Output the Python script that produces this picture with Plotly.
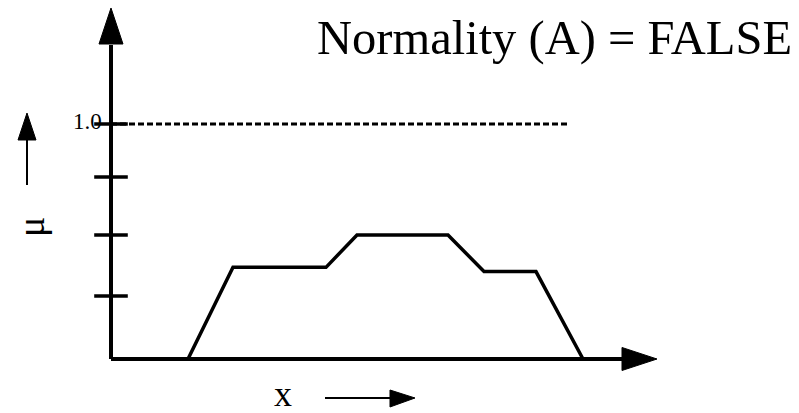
import plotly.graph_objects as go

# Membership function of a subnormal fuzzy set A (its height never reaches 1.0)
x_vals = [1.54, 2.44, 4.30, 4.92, 6.74, 7.46, 8.50, 9.44]
mu_vals = [0.0, 0.39, 0.39, 0.528, 0.528, 0.372, 0.372, 0.0]

# Membership grades marked on the vertical axis
mu_ticks = [0.268, 0.528, 0.774]
full_grade = 1.0
full_grade_label = "1.0"

title_text = "Normality (A) = FALSE"

W, H = 799, 413
SERIF = "Liberation Serif, Times New Roman, serif"

# Axis extents in data units
x_axis_end = 10.22      # where the x-axis arrowhead starts
y_axis_end = 1.336      # where the y-axis arrowhead starts
dash_end = 9.18


def px(x):
    return x / W


def py(y):
    return 1 - y / H


fig = go.Figure()

# the membership curve
fig.add_trace(go.Scatter(
    x=x_vals, y=mu_vals, mode="lines",
    line=dict(color="black", width=3.5),
    hoverinfo="skip", showlegend=False,
))

# tick marks crossing the vertical axis
fig.add_trace(go.Scatter(
    x=[0] * len(mu_ticks + [full_grade]), y=mu_ticks + [full_grade],
    mode="markers",
    marker=dict(symbol="line-ew", size=24, line=dict(color="black", width=3.5)),
    hoverinfo="skip", showlegend=False,
))

shapes = []
# axes
shapes.append(dict(type="line", xref="x", yref="y", x0=0, y0=0, x1=x_axis_end, y1=0,
                   line=dict(color="black", width=4)))
shapes.append(dict(type="line", xref="x", yref="y", x0=0, y0=0, x1=0, y1=y_axis_end,
                   line=dict(color="black", width=4)))
# full membership reference line
shapes.append(dict(type="line", xref="x", yref="y", x0=0, y0=full_grade, x1=dash_end, y1=full_grade,
                   line=dict(color="black", width=3, dash="6px,3px")))


def tri(points):
    p = " L".join(f"{px(a):.5f},{py(b):.5f}" for a, b in points)
    return "M" + p + " Z"


# arrowheads of the main axes
shapes.append(dict(type="path", xref="paper", yref="paper",
                   path=tri([(111, 8), (99, 44), (123, 44)]),
                   fillcolor="black", line=dict(color="black", width=1)))
shapes.append(dict(type="path", xref="paper", yref="paper",
                   path=tri([(657, 359), (622, 347.5), (622, 370.5)]),
                   fillcolor="black", line=dict(color="black", width=1)))

# small arrows next to the axis names
shapes.append(dict(type="line", xref="paper", yref="paper",
                   x0=px(27), y0=py(185), x1=px(27), y1=py(138),
                   line=dict(color="black", width=2)))
shapes.append(dict(type="path", xref="paper", yref="paper",
                   path=tri([(27, 113), (18, 140), (36, 140)]),
                   fillcolor="black", line=dict(color="black", width=1)))
shapes.append(dict(type="line", xref="paper", yref="paper",
                   x0=px(325), y0=py(398), x1=px(392), y1=py(398),
                   line=dict(color="black", width=2)))
shapes.append(dict(type="path", xref="paper", yref="paper",
                   path=tri([(415, 398), (390, 390), (390, 407)]),
                   fillcolor="black", line=dict(color="black", width=1)))

annotations = [
    dict(text=title_text, xref="paper", yref="paper", x=px(315), y=py(38),
         xanchor="left", yanchor="middle", showarrow=False,
         font=dict(family=SERIF, size=48.5, color="black")),
    dict(text=full_grade_label, xref="x", yref="y", x=0, y=full_grade,
         xanchor="right", yanchor="middle", xshift=-7, yshift=3, showarrow=False,
         font=dict(family=SERIF, size=23, color="black")),
    dict(text="x", xref="paper", yref="paper", x=px(283), y=0,
         xanchor="center", yanchor="bottom", yshift=-3, showarrow=False,
         font=dict(family=SERIF, size=36, color="black")),
    dict(text="\u03bc", xref="paper", yref="paper", x=px(31), y=py(227),
         xanchor="center", yanchor="middle", textangle=-90, showarrow=False,
         font=dict(family=SERIF, size=38, color="black")),
]

fig.update_layout(
    width=W, height=H,
    margin=dict(l=0, r=0, t=0, b=0),
    paper_bgcolor="white", plot_bgcolor="white",
    xaxis=dict(range=[-111 / 50, (W - 111) / 50], visible=False, fixedrange=True),
    yaxis=dict(range=[-54 / 235, 359 / 235], visible=False, fixedrange=True),
    shapes=shapes, annotations=annotations,
    showlegend=False,
)

fig.write_html("out.html")
